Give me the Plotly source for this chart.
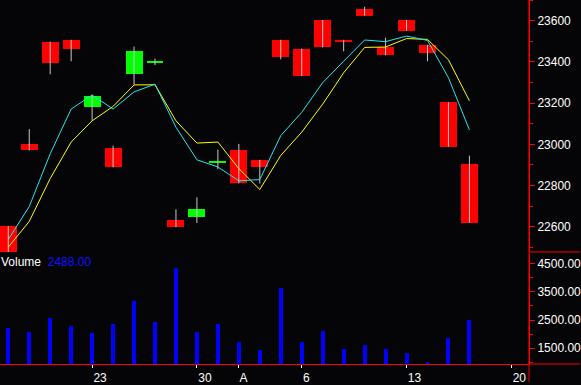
import plotly.graph_objects as go

# ---------------- data ----------------
day_index = list(range(23))
opens  = [22603, 23002, 23498, 23507, 23182, 22983, 23340, 23393, 22632, 22647, 22914, 22974,
          22925, 23507, 23464, 23603, 23507, 23656, 23474, 23603, 23483, 23204, 22906]
highs  = [22603, 23074, 23498, 23507, 23241, 22993, 23474, 23416, 22685, 22743, 22974, 23002,
          22925, 23507, 23464, 23603, 23507, 23667, 23517, 23603, 23483, 23204, 22945]
lows   = [22450, 22970, 23340, 23403, 23114, 22888, 23289, 23384, 22598, 22618, 22879, 22810,
          22810, 23412, 23331, 23470, 23451, 23624, 23432, 23552, 23403, 22989, 22619]
closes = [22450, 22970, 23393, 23461, 23233, 22888, 23454, 23406, 22598, 22685, 22916, 22810,
          22888, 23422, 23331, 23470, 23494, 23624, 23432, 23552, 23441, 22989, 22619]
ma_fast = [22538, 22698, 22954, 23171, 23239, 23171, 23254, 23292, 23083, 22925, 22890, 22823,
           22829, 23042, 23155, 23299, 23403, 23506, 23498, 23525, 23504, 23323, 23070]
ma_slow = [22501, 22626, 22834, 23011, 23114, 23184, 23288, 23289, 23114, 23006, 23011, 22882,
           22781, 22946, 23059, 23195, 23347, 23470, 23472, 23513, 23509, 23410, 23211]
volume = [2206, 2089, 2559, 2276, 2029, 2347, 3194, 2442, 4358, 2089, 2347, 1712,
          1429, 3653, 1712, 2100, 1465, 1606, 1465, 1324, 1017, 1853, 2488]
tick_positions = [4, 9, 11, 14, 19, 24]
tick_labels = ["23", "30", "A\u00a0\u00a0", "6\u00a0\u00a0", "13", "20"]

BG = "#050508"
RED = "#ff0000"
GREEN = "#00ff00"
FONT = "Liberation Sans, Arial, sans-serif"

fig = go.Figure()

# wicks
wx, wy = [], []
for i, lo, hi in zip(day_index, lows, highs):
    wx += [i, i, None]
    wy += [lo, hi, None]
fig.add_trace(go.Scatter(x=wx, y=wy, mode="lines", line=dict(color="#c8c8c8", width=1),
                         hoverinfo="skip", showlegend=False, xaxis="x", yaxis="y"))

# bodies
bases, heights, colors = [], [], []
for o, c in zip(opens, closes):
    lo_b, hi_b = min(o, c), max(o, c)
    h = max(hi_b - lo_b, 5)
    bases.append(lo_b)
    heights.append(h)
    colors.append(GREEN if c > o else RED)
fig.add_trace(go.Bar(x=day_index, y=heights, base=bases, width=0.81,
                     marker=dict(color=colors, line=dict(width=0)),
                     showlegend=False, xaxis="x", yaxis="y"))

# moving averages
fig.add_trace(go.Scatter(x=day_index, y=ma_slow, mode="lines", line=dict(color="#ffff00", width=1),
                         showlegend=False, xaxis="x", yaxis="y"))
fig.add_trace(go.Scatter(x=day_index, y=ma_fast, mode="lines", line=dict(color="#22e8e8", width=1),
                         showlegend=False, xaxis="x", yaxis="y"))

# volume
fig.add_trace(go.Bar(x=day_index, y=volume, width=0.19,
                     marker=dict(color="#0000ff", line=dict(width=0)),
                     showlegend=False, xaxis="x", yaxis="y2"))

price_bottom = (367 - 254) / 367
vol_top = (367 - 256) / 367
right_ext = 51 / 530

fig.update_layout(
    width=581, height=385,
    margin=dict(l=0, r=51, t=0, b=18, pad=0),
    paper_bgcolor=BG, plot_bgcolor=BG,
    font=dict(family=FONT, size=12, color="white"),
    bargap=0, barmode="overlay",
    xaxis=dict(range=[-0.395, 24.843], domain=[0, 1], anchor="y2",
               tickvals=tick_positions, ticktext=tick_labels,
               ticks="outside", ticklen=3, tickcolor="white",
               ticklabelshift=8, ticklabelstandoff=0,
               showline=True, linecolor=RED, linewidth=1,
               showgrid=False, zeroline=False,
               tickfont=dict(family=FONT, size=12, color="white")),
    yaxis=dict(domain=[price_bottom, 1], range=[22478, 23700], side="right", anchor="x",
               tick0=0, dtick=200, tickformat="d",
               ticks="outside", ticklen=5, tickcolor=RED,
               minor=dict(ticks="outside", ticklen=3, tickcolor=RED, dtick=100, tick0=0),
               showline=True, linecolor=RED, showgrid=False, zeroline=False,
               tickfont=dict(family=FONT, size=12, color="white")),
    yaxis2=dict(domain=[0, vol_top], range=[935, 4853], side="right", anchor="x",
                tick0=1500, dtick=1000, tickformat=".2f",
                ticks="outside", ticklen=5, tickcolor=RED,
                minor=dict(ticks="outside", ticklen=3, tickcolor=RED, dtick=500, tick0=1500),
                showline=True, linecolor=RED, showgrid=False, zeroline=False,
                tickfont=dict(family=FONT, size=12, color="white")),
    shapes=[
        dict(type="line", xref="paper", yref="paper", x0=1, x1=1, y0=-18 / 367, y1=1,
             line=dict(color=RED, width=1)),
        dict(type="line", xref="paper", yref="paper", x0=1, x1=1 + right_ext,
             y0=price_bottom, y1=price_bottom, line=dict(color=RED, width=1)),
        dict(type="line", xref="paper", yref="paper", x0=1, x1=1 + right_ext,
             y0=0, y1=0, line=dict(color=RED, width=1)),
    ],
    annotations=[
        dict(xref="paper", yref="paper", x=0, y=vol_top, xanchor="left", yanchor="top",
             showarrow=False, borderpad=0,
             text="Volume\u00a0\u00a0<span style='color:#1010ff'>%.2f</span>" % volume[-1],
             font=dict(family=FONT, size=12, color="white")),
    ],
)

fig.write_html("out.html")
